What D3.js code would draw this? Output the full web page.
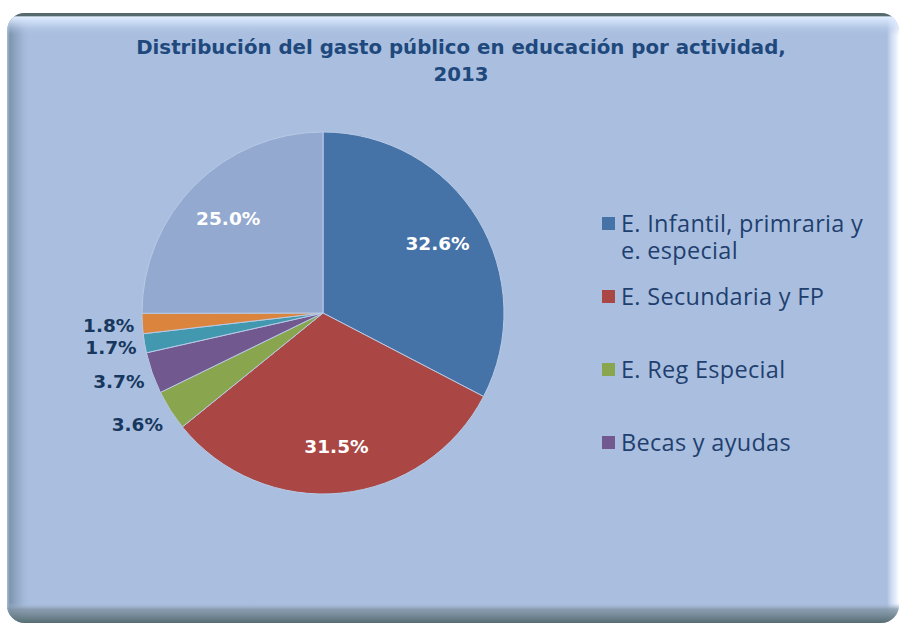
<!DOCTYPE html>
<html>
<head>
<meta charset="utf-8">
<script src="https://cdn.jsdelivr.net/npm/d3@7"></script>
<style>
  body { margin: 0; background: #fff; }
  svg { display: block; }
</style>
</head>
<body>
<div id="chart"></div>
<script>
// Distribución del gasto público en educación por actividad, 2013

const categories = ["E. Infantil, primraria y e. especial", "E. Secundaria y FP", "E. Reg Especial",
  "Becas y ayudas", "Otras actividades (5)", "Otras actividades (6)", "Otras actividades (7)"];
const values = [32.6, 31.5, 3.6, 3.7, 1.7, 1.8, 25.0];
const colors = ["#4572A7", "#AA4643", "#89A54E", "#71588F", "#4198AF", "#DB843D", "#93A9CF"];
// legend only shows the first four entries, wrapped like the original
const legendLines = [["E. Infantil, primraria y", "e. especial"], ["E. Secundaria y FP"], ["E. Reg Especial"], ["Becas y ayudas"]];

const width = 904,
    height = 624,
    panel = ({ x: 7, y: 13, w: 892, h: 610, r: 18 }),
    cx = 323, cy = 313, radius = 181;

const svg = d3.select("#chart")
  .append("svg")
  .attr("width", width)
  .attr("height", height);

const defs = svg.append("defs");

defs.append("clipPath").attr("id", "panel-clip")
  .append("rect")
  .attr("x", panel.x).attr("y", panel.y)
  .attr("width", panel.w).attr("height", panel.h)
  .attr("rx", panel.r);

function grad(id, x2, y2, stops) {
  const g = defs.append("linearGradient").attr("id", id)
    .attr("x1", 0).attr("y1", 0).attr("x2", x2).attr("y2", y2);
  stops.forEach(s => g.append("stop").attr("offset", s[0]).attr("stop-color", s[1]).attr("stop-opacity", s[2]));
}
grad("g-left", 1, 0, [[0, "#a9bed4", 1], [0.12, "#7890aa", 0.9], [0.5, "#8aa0bd", 0.6], [1, "#aabfdf", 0]]);
grad("g-right", 1, 0, [[0, "#ffffff", 0], [0.6, "#e4eeff", 0.85], [1, "#ffffff", 1]]);
grad("g-top", 0, 1, [[0, "#56696c", 1], [0.12, "#56696c", 1], [0.18, "#e2eeff", 1], [0.5, "#d3e2fa", 0.6], [1, "#aabfdf", 0]]);
grad("g-bottom", 0, 1, [[0, "#aabfdf", 0], [0.3, "#8396a6", 0.8], [1, "#566d72", 1]]);

// frame
const frame = svg.append("g").attr("clip-path", "url(#panel-clip)");
frame.append("rect")
  .attr("x", panel.x).attr("y", panel.y)
  .attr("width", panel.w).attr("height", panel.h)
  .attr("fill", "#aabfdf");
frame.append("rect").attr("x", panel.x).attr("y", panel.y).attr("width", 24).attr("height", panel.h).attr("fill", "url(#g-left)");
frame.append("rect").attr("x", panel.x + panel.w - 12).attr("y", panel.y).attr("width", 12).attr("height", panel.h).attr("fill", "url(#g-right)");
frame.append("rect").attr("x", panel.x).attr("y", panel.y).attr("width", panel.w).attr("height", 22).attr("fill", "url(#g-top)");
frame.append("rect").attr("x", panel.x).attr("y", panel.y + panel.h - 20).attr("width", panel.w).attr("height", 20).attr("fill", "url(#g-bottom)");

// title
svg.append("text")
  .attr("x", 461)
  .attr("y", 54)
  .attr("text-anchor", "middle")
  .attr("font-family", "'DejaVu Sans', sans-serif")
  .attr("font-weight", "bold")
  .attr("font-size", 19.8)
  .attr("fill", "#1F497D")
  .selectAll("tspan")
  .data(["Distribución del gasto público en educación por actividad,", "2013"])
  .join("tspan")
  .attr("x", 461)
  .attr("dy", (d, i) => i === 0 ? 0 : 27)
  .text(d => d);

// pie
const pie = d3.pie().sort(null).value(d => d);
const arcs = pie(values);
const arc = d3.arc().innerRadius(0).outerRadius(radius);
const labelArc = d3.arc().innerRadius(radius * 0.74).outerRadius(radius * 0.74);
const outerArc = d3.arc().innerRadius(radius + 4).outerRadius(radius + 4);

const g = svg.append("g").attr("transform", `translate(${cx},${cy})`);

g.selectAll("path")
  .data(arcs)
  .join("path")
  .attr("d", arc)
  .attr("fill", (d, i) => colors[i])
  .attr("stroke", "#b8cae6")
  .attr("stroke-width", 1);

const fmt = d => d.toFixed(1) + "%";

// big slices: white labels inside
g.selectAll("text.inside")
  .data(arcs.filter(d => d.data >= 10))
  .join("text")
  .attr("class", "inside")
  .attr("transform", d => `translate(${labelArc.centroid(d)})`)
  .attr("text-anchor", "middle")
  .attr("dy", "0.35em")
  .attr("font-family", "'DejaVu Sans', sans-serif")
  .attr("font-weight", "bold")
  .attr("font-size", 18.5)
  .attr("fill", "#fff")
  .text(d => fmt(d.data));

// small slices: dark labels outside, box corner resting on the rim
const small = arcs.filter(d => d.data < 10).map(d => {
  const [x, y] = outerArc.centroid(d);
  const mid = (d.startAngle + d.endAngle) / 2;
  return { d, x: x - 4, y: y - Math.cos(mid) * 22 };
}).sort((a, b) => a.y - b.y);
for (let i = 1; i < small.length; i++) {
  if (small[i].y - small[i - 1].y < 22) small[i].y = small[i - 1].y + 22;
}

g.selectAll("text.outside")
  .data(small)
  .join("text")
  .attr("class", "outside")
  .attr("x", s => s.x)
  .attr("y", s => s.y)
  .attr("text-anchor", "end")
  .attr("dy", "0.35em")
  .attr("font-family", "'DejaVu Sans', sans-serif")
  .attr("font-weight", "bold")
  .attr("font-size", 18.5)
  .attr("fill", "#17375E")
  .text(s => fmt(s.d.data));

// legend
const legend = svg.append("g").attr("transform", "translate(602,217)");
const item = legend.selectAll("g")
  .data(legendLines)
  .join("g")
  .attr("transform", (d, i) => `translate(0,${i * 73})`);

item.append("rect")
  .attr("width", 13)
  .attr("height", 13)
  .attr("fill", (d, i) => colors[i]);

item.append("text")
  .attr("font-family", "'Open Sans', sans-serif")
  .attr("font-size", 23.5)
  .attr("letter-spacing", 0.3)
  .attr("fill", "#1F3F6F")
  .selectAll("tspan")
  .data(d => d)
  .join("tspan")
  .attr("x", 19)
  .attr("y", (d, i) => 15 + i * 27)
  .text(d => d);
</script>
</body>
</html>
